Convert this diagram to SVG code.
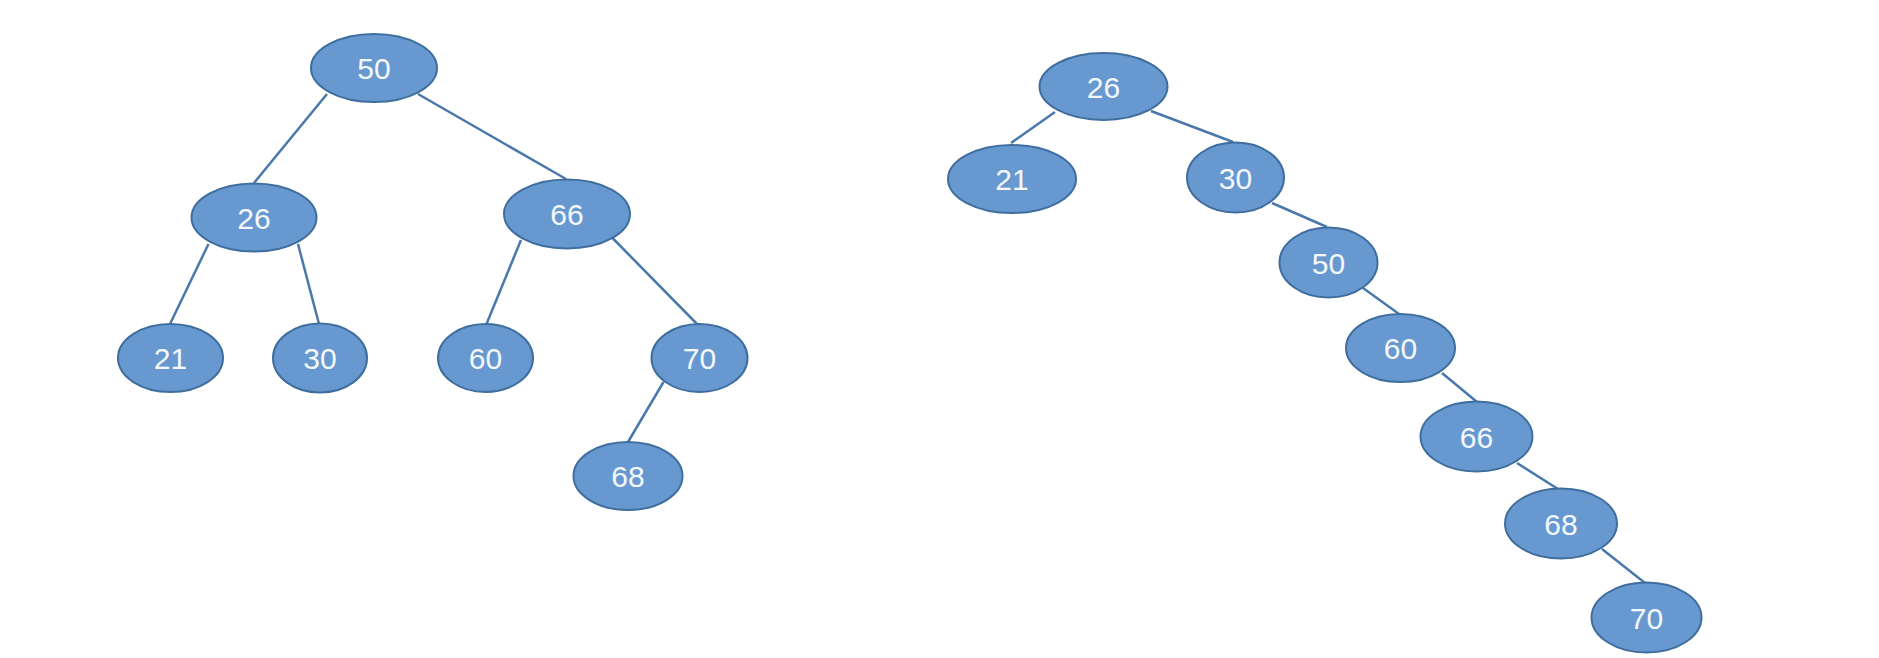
<svg xmlns="http://www.w3.org/2000/svg" width="1879" height="658" viewBox="0 0 1879 658">
<style>
.n ellipse{fill:#6799d0;stroke:#3f6e9e;stroke-width:2}
.n text{fill:#f4f8fc;font-family:"Liberation Sans",sans-serif;font-size:30px;text-anchor:middle}
.e line{stroke:#4a78aa;stroke-width:2.5}
</style>
<rect width="1879" height="658" fill="#ffffff"/>
<g class="e" id="connectors">
<line x1="327" y1="94" x2="254" y2="183"/>
<line x1="418" y1="94" x2="566" y2="179"/>
<line x1="208.5" y1="244" x2="170" y2="324"/>
<line x1="298" y1="244" x2="319" y2="324"/>
<line x1="521" y1="240" x2="486.5" y2="324"/>
<line x1="612.5" y1="238" x2="697" y2="324"/>
<line x1="663.5" y1="382" x2="628" y2="442"/>
<line x1="1055" y1="112" x2="1011" y2="143"/>
<line x1="1151" y1="111" x2="1233" y2="142"/>
<line x1="1272" y1="203" x2="1327" y2="227"/>
<line x1="1363" y1="288" x2="1399" y2="314"/>
<line x1="1442" y1="373" x2="1477" y2="402"/>
<line x1="1517" y1="463" x2="1558" y2="489"/>
<line x1="1602" y1="549" x2="1645" y2="583"/>
</g>
<g class="n" id="L50"><ellipse cx="374" cy="68" rx="63" ry="34"/><text x="374" y="79">50</text></g>
<g class="n" id="L26"><ellipse cx="254" cy="217.5" rx="62.5" ry="34"/><text x="254" y="228.5">26</text></g>
<g class="n" id="L66"><ellipse cx="567" cy="214" rx="63" ry="34.5"/><text x="567" y="225">66</text></g>
<g class="n" id="L21"><ellipse cx="170.5" cy="358" rx="52.5" ry="34"/><text x="170.5" y="369">21</text></g>
<g class="n" id="L30"><ellipse cx="320" cy="358" rx="47" ry="34.5"/><text x="320" y="369">30</text></g>
<g class="n" id="L60"><ellipse cx="485.5" cy="358" rx="47.5" ry="34"/><text x="485.5" y="369">60</text></g>
<g class="n" id="L70"><ellipse cx="699.5" cy="358" rx="48" ry="34"/><text x="699.5" y="369">70</text></g>
<g class="n" id="L68"><ellipse cx="628" cy="476" rx="54.5" ry="34"/><text x="628" y="487">68</text></g>
<g class="n" id="R26"><ellipse cx="1103.5" cy="86.5" rx="64" ry="33.5"/><text x="1103.5" y="97.5">26</text></g>
<g class="n" id="R21"><ellipse cx="1012" cy="179" rx="64" ry="34"/><text x="1012" y="190">21</text></g>
<g class="n" id="R30"><ellipse cx="1235.5" cy="177.5" rx="48.5" ry="35"/><text x="1235.5" y="188.5">30</text></g>
<g class="n" id="R50"><ellipse cx="1328.5" cy="262.5" rx="49" ry="35"/><text x="1328.5" y="273.5">50</text></g>
<g class="n" id="R60"><ellipse cx="1400.5" cy="348" rx="54.5" ry="34"/><text x="1400.5" y="359">60</text></g>
<g class="n" id="R66"><ellipse cx="1476.5" cy="436.5" rx="56" ry="35"/><text x="1476.5" y="447.5">66</text></g>
<g class="n" id="R68"><ellipse cx="1561" cy="523.5" rx="56" ry="35"/><text x="1561" y="534.5">68</text></g>
<g class="n" id="R70"><ellipse cx="1646.5" cy="617.5" rx="55" ry="35"/><text x="1646.5" y="628.5">70</text></g>
</svg>
